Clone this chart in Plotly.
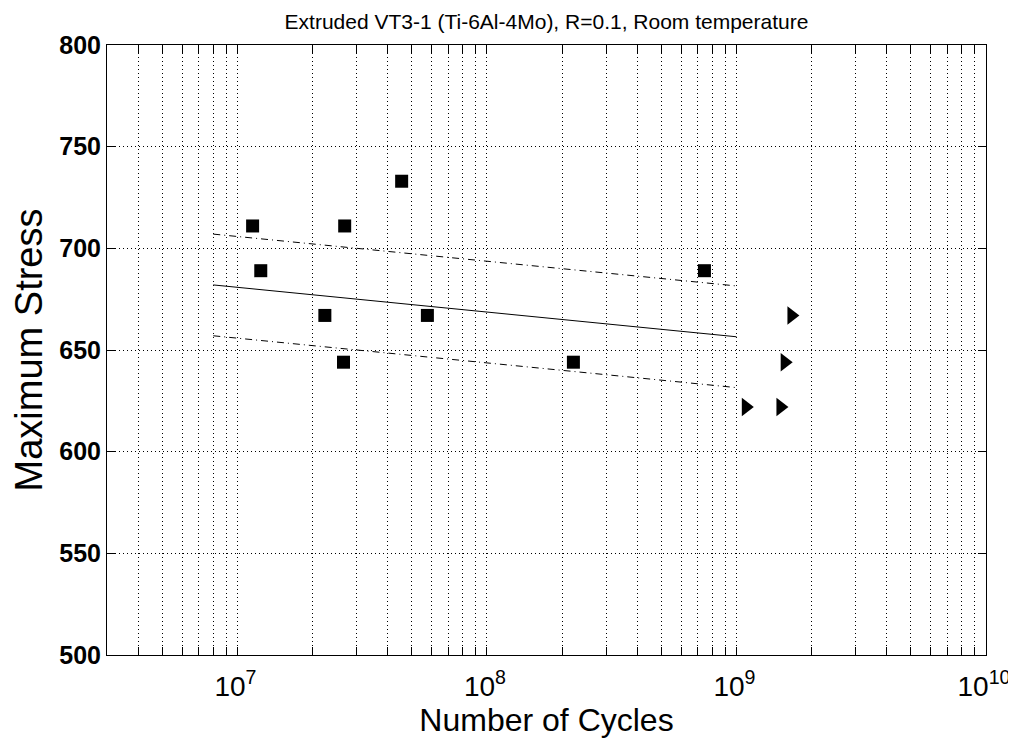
import numpy as np
import plotly.graph_objects as go

# ---- data ----
fail_cycles = [1.15e7, 2.69e7, 4.55e7, 1.24e7, 2.24e7, 5.77e7, 2.66e7, 2.22e8, 7.44e8]
fail_stress = [711, 711, 733, 689, 667, 667, 644, 644, 689]

runout_cycles = [1.66e9, 1.56e9, 1.09e9, 1.50e9]
runout_stress = [667, 644, 622, 622]

fit_cycles = [8.0e6, 1.0e9]
fit_stress = [682, 656.5]
band_offset = 25

x_tickvals = [1e7, 1e8, 1e9, 1e10]
x_ticktext = ["10<sup>7</sup>", "10<sup>8</sup>", "10<sup>9</sup>", "10<sup>10</sup>"]
y_tickvals = [500, 550, 600, 650, 700, 750, 800]

title_text = "Extruded VT3-1 (Ti-6Al-4Mo), R=0.1, Room temperature"
x_title = "Number of Cycles"
y_title = "Maximum Stress"

FONT = "Liberation Sans, Arial, sans-serif"
grid_dash = "1px,3px"
band_dash = "7px,4px,1px,4px"

# The page body has an 8px default margin, so the figure is drawn 8px smaller
# and the margins are reduced to keep the plot box where the reference has it.
PAGE_OFF = 8
W, H = 1016 - PAGE_OFF, 738 - PAGE_OFF

fig = go.Figure()

fig.add_trace(go.Scatter(
    x=fit_cycles, y=fit_stress, mode="lines",
    line=dict(color="black", width=1), showlegend=False, hoverinfo="skip"))
fig.add_trace(go.Scatter(
    x=fit_cycles, y=[v + band_offset for v in fit_stress], mode="lines",
    line=dict(color="black", width=1, dash=band_dash), showlegend=False, hoverinfo="skip"))
fig.add_trace(go.Scatter(
    x=fit_cycles, y=[v - band_offset for v in fit_stress], mode="lines",
    line=dict(color="black", width=1, dash=band_dash), showlegend=False, hoverinfo="skip"))

fig.add_trace(go.Scatter(
    x=fail_cycles, y=fail_stress, mode="markers",
    marker=dict(symbol="square", size=13, color="black", line=dict(width=0)),
    showlegend=False))
fig.add_trace(go.Scatter(
    x=runout_cycles, y=runout_stress, mode="markers",
    marker=dict(symbol="triangle-right", size=16, color="black", line=dict(width=0)),
    showlegend=False))

fig.update_layout(
    width=W, height=H,
    margin=dict(l=107 - PAGE_OFF, r=30, t=45 - PAGE_OFF, b=83, autoexpand=False),
    paper_bgcolor="white", plot_bgcolor="white",
    font=dict(family=FONT, color="black"),
    title=dict(text=title_text, x=0.5, xref="paper", xanchor="center",
               y=1 - 14 / H, yref="container", yanchor="middle",
               automargin=False,
               font=dict(size=21, family=FONT, color="black")),
)

fig.update_xaxes(
    type="log", range=[np.log10(3.0e6), 10], automargin=False,
    tickmode="array", tickvals=x_tickvals, ticktext=x_ticktext,
    tickfont=dict(size=28, family=FONT), ticklabelshift=-2, ticklabelstandoff=6,
    ticks="inside", ticklen=8, tickcolor="black", tickwidth=1,
    showline=True, linecolor="black", linewidth=1, mirror="ticks",
    showgrid=True, gridcolor="black", gridwidth=1, griddash=grid_dash,
    zeroline=False,
    minor=dict(dtick="D1", ticks="inside", ticklen=8, tickcolor="black",
               showgrid=True, gridcolor="black", gridwidth=1, griddash=grid_dash),
    title=dict(text=x_title, font=dict(size=32, family=FONT), standoff=1),
)
fig.update_yaxes(
    range=[500, 800], automargin=False, tickmode="array", tickvals=y_tickvals,
    tickfont=dict(size=25, family=FONT, weight="bold"),
    ticks="inside", ticklen=8, tickcolor="black", tickwidth=1,
    showline=True, linecolor="black", linewidth=1, mirror="ticks",
    showgrid=True, gridcolor="black", gridwidth=1, griddash=grid_dash,
    zeroline=False, ticklabelstandoff=0,
    title=dict(text=y_title, font=dict(size=38, family=FONT), standoff=6),
)

fig.write_html("out.html")
